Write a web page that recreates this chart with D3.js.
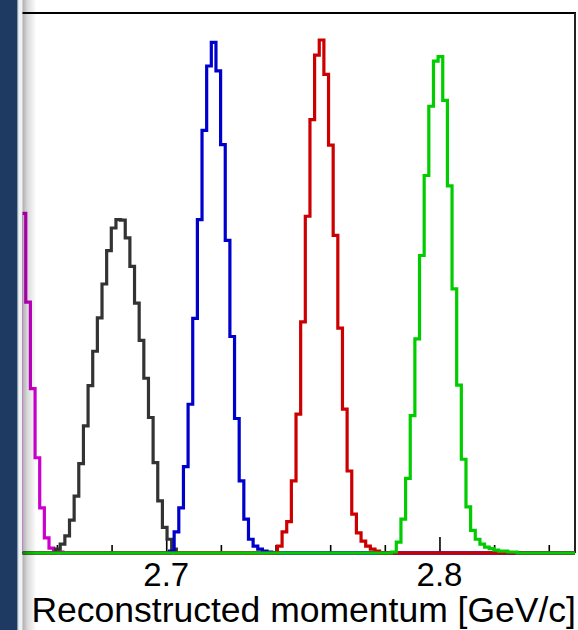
<!DOCTYPE html>
<html>
<head>
<meta charset="utf-8">
<script src="https://cdn.jsdelivr.net/npm/d3@7"></script>
<style>
  html, body { margin: 0; padding: 0; background: #ffffff; }
  svg { display: block; }
  text { font-family: "Liberation Sans", Arial, Helvetica, sans-serif; fill: #000; }
</style>
</head>
<body>
<div id="chart"></div>
<script>
// histogram binning (GeV/c)
const binWidth = 0.0017;
const xRange = [2.6474, 2.8496];
const yRange = [0, 1100];

// lower edge of the first listed bin of every histogram
const seriesNames = ["magenta", "black", "blue", "red", "green"];
const seriesStarts = [2.6469, 2.6595, 2.7012, 2.7407, 2.7825];

// bin contents
const magentaCounts = [692, 511, 335, 194, 92, 31, 10, 4, 2];
const blackCounts = [8, 18, 35, 67, 116, 182, 259, 341, 411, 479, 548, 616, 662, 679, 678, 642, 584, 509, 433, 356, 276, 184, 106, 52, 28, 8];
const blueCounts = [4, 43, 92, 176, 303, 478, 679, 861, 992, 1040, 982, 832, 637, 441, 274, 147, 69, 28, 14, 8, 4, 2];
const redCounts = [14, 43, 64, 147, 283, 471, 686, 883, 1014, 1045, 975, 831, 647, 458, 293, 167, 79, 41, 24, 14, 8, 4];
const greenCounts = [2, 22, 69, 152, 280, 436, 606, 769, 910, 1002, 1011, 922, 748, 538, 342, 191, 94, 46, 28, 18, 12, 9, 6, 4, 4, 2, 2];

const majorTicks = [2.7, 2.8];
const minorTicks = [2.66, 2.68, 2.72, 2.74, 2.76, 2.78, 2.82, 2.84];
const axisTitle = "Reconstructed momentum [GeV/c]";

const seriesCounts = [magentaCounts, blackCounts, blueCounts, redCounts, greenCounts];
const colors = {magenta: "#cc00cc", black: "#333333", blue: "#0000cc", red: "#cc0000", green: "#00cc00"};

const W = 578, H = 630;
const frame = {left: 22.5, right: 575, top: 13, bottom: 553};

const svg = d3.select("#chart").append("svg")
    .attr("width", W)
    .attr("height", H);

// page background bits on the left
svg.append("rect").attr("x", 0).attr("y", 0).attr("width", W).attr("height", H).attr("fill", "#ffffff");
svg.append("rect").attr("x", 0).attr("y", 0).attr("width", 17.5).attr("height", H).attr("fill", "#1f3a62");
svg.append("rect").attr("x", 17.5).attr("y", 0).attr("width", 1).attr("height", H).attr("fill", "#7d96ae");
svg.append("rect").attr("x", 18.5).attr("y", 0).attr("width", 4).attr("height", H).attr("fill", "#eef2f2");

let x = d3.scaleLinear().domain(xRange).range([frame.left, frame.right]);
let y = d3.scaleLinear().domain(yRange).range([frame.bottom, frame.top]);

svg.append("clipPath").attr("id", "plot-clip")
    .append("rect")
    .attr("x", frame.left)
    .attr("y", 0)
    .attr("width", frame.right - frame.left)
    .attr("height", frame.bottom + 4);

// ticks (pointing up into the frame)
let minorAxis = d3.axisBottom(x).tickValues(minorTicks).tickSize(-8).tickFormat("");
let majorAxis = d3.axisBottom(x).tickValues(majorTicks).tickSize(-16).tickFormat("");

[minorAxis, majorAxis].forEach(function (ax) {
    let g = svg.append("g")
        .attr("transform", `translate(0, ${frame.bottom})`)
        .call(ax);
    g.select(".domain").remove();
    g.selectAll("line").attr("stroke", "#000").attr("stroke-width", 1.6);
});

// frame
svg.append("line").attr("x1", frame.left).attr("x2", frame.right + 1).attr("y1", frame.top).attr("y2", frame.top)
    .attr("stroke", "#000").attr("stroke-width", 2);
svg.append("line").attr("x1", frame.right).attr("x2", frame.right).attr("y1", frame.top).attr("y2", frame.bottom)
    .attr("stroke", "#222").attr("stroke-width", 2);
svg.append("line").attr("x1", frame.left).attr("x2", frame.right).attr("y1", frame.bottom).attr("y2", frame.bottom)
    .attr("stroke", "#000").attr("stroke-width", 1.5);

// histograms as step outlines
let line = d3.line()
    .x(d => x(d.x))
    .y(d => y(d.y))
    .curve(d3.curveStepAfter);

let plot = svg.append("g").attr("clip-path", "url(#plot-clip)");

seriesNames.forEach(function (name, i) {
    let start = seriesStarts[i];
    let counts = seriesCounts[i];
    let pts = [{x: xRange[0], y: 0}];
    counts.forEach(function (c, j) {
        pts.push({x: start + j * binWidth, y: c});
    });
    pts.push({x: start + counts.length * binWidth, y: 0});
    pts.push({x: xRange[1], y: 0});

    plot.append("path")
        .datum(pts)
        .attr("d", line)
        .attr("fill", "none")
        .attr("stroke", colors[name])
        .attr("stroke-width", 3.2)
        .attr("stroke-linejoin", "miter");
});

// tick labels
majorTicks.forEach(function (t) {
    svg.append("text")
        .attr("x", x(t))
        .attr("y", 586)
        .attr("text-anchor", "middle")
        .style("font-size", "33px")
        .text(t.toFixed(1));
});

// axis title, right aligned like ROOT
svg.append("text")
    .attr("x", frame.right + 1)
    .attr("y", 622)
    .attr("text-anchor", "end")
    .style("font-size", "35.5px")
    .text(axisTitle);

// shadow falling over the left edge of the page
let defs = svg.append("defs");
let grad = defs.append("linearGradient").attr("id", "shade").attr("x1", "0").attr("x2", "1").attr("y1", "0").attr("y2", "0");
grad.append("stop").attr("offset", "0%").attr("stop-color", "#000").attr("stop-opacity", 0.32);
grad.append("stop").attr("offset", "35%").attr("stop-color", "#000").attr("stop-opacity", 0.15);
grad.append("stop").attr("offset", "100%").attr("stop-color", "#000").attr("stop-opacity", 0);

svg.append("rect")
    .attr("x", 22.5)
    .attr("y", 0)
    .attr("width", 14)
    .attr("height", H)
    .attr("fill", "url(#shade)");
</script>
</body>
</html>
